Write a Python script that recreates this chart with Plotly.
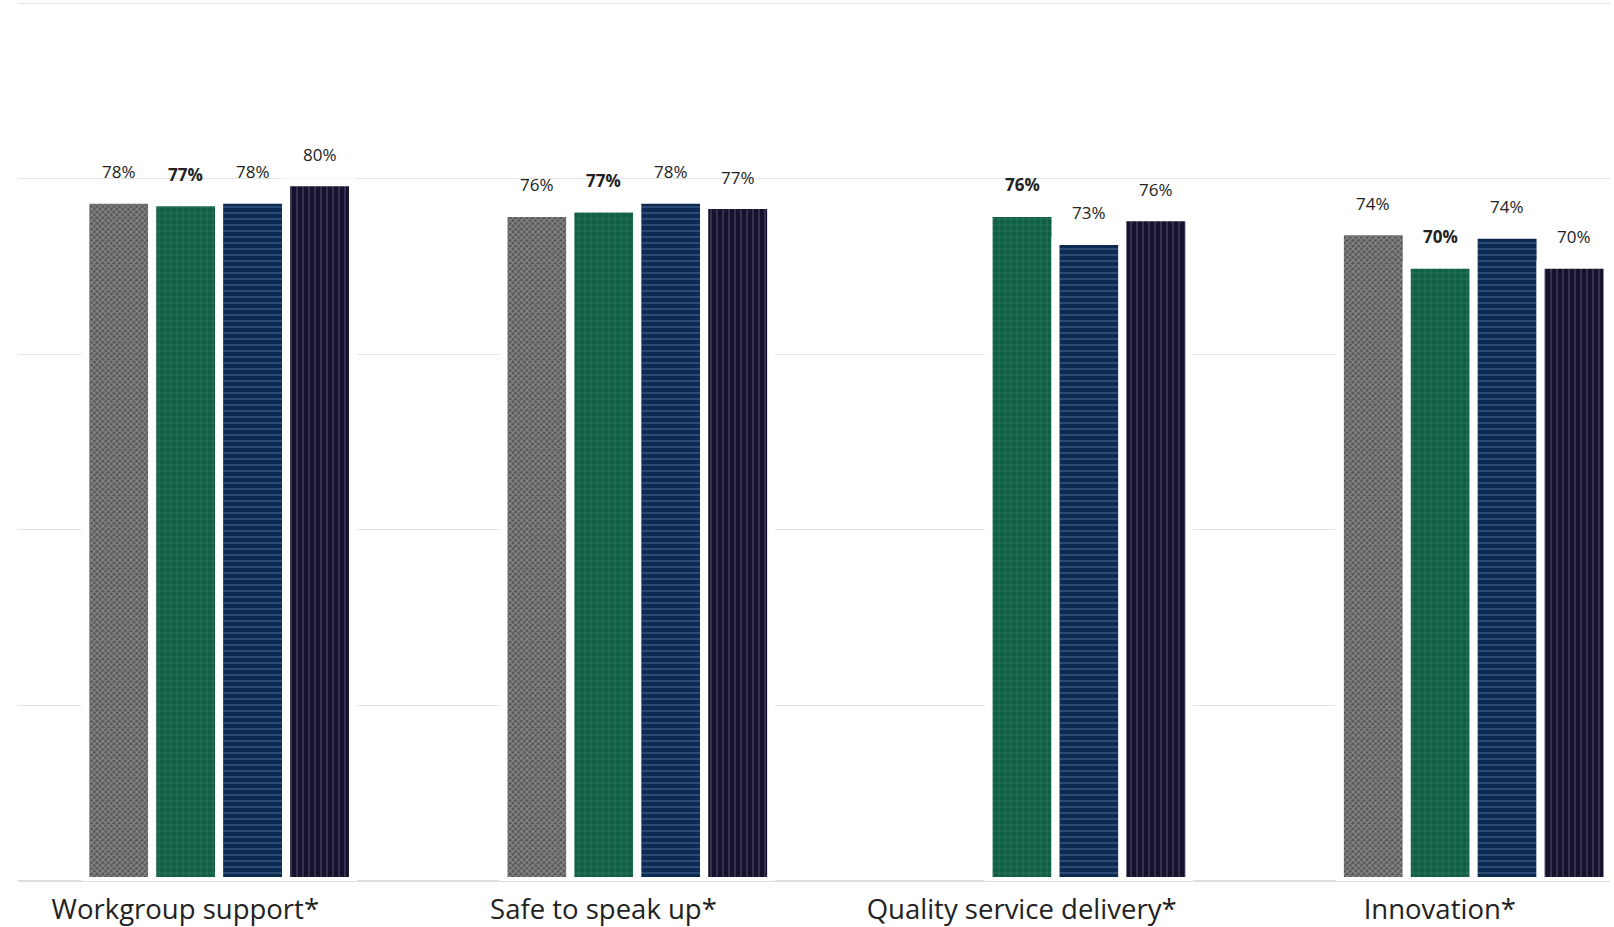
import plotly.graph_objects as go

categories = ["Workgroup support*", "Safe to speak up*", "Quality service delivery*", "Innovation*"]
series_names = ["Series A", "Series B", "Series C", "Series D"]
series_values = [
    [77.6, 76.1, None, 74.0],
    [77.3, 76.6, 76.1, 70.2],
    [77.6, 77.6, 72.9, 73.6],
    [79.6, 77.0, 75.6, 70.2],
]
series_labels = [
    ["78%", "76%", "", "74%"],
    ["77%", "77%", "76%", "70%"],
    ["78%", "78%", "73%", "74%"],
    ["80%", "77%", "76%", "70%"],
]
bold_series = 1

patterns = [
    dict(shape="x", bgcolor="#585858", fgcolor="#c2c2c2", size=4, solidity=0.45),
    dict(shape="+", bgcolor="#0f5f44", fgcolor="#8cc2a9", size=6, solidity=0.12),
    dict(shape="-", bgcolor="#0c2b53", fgcolor="#8fadd4", size=6, solidity=0.16),
    dict(shape="|", bgcolor="#16122d", fgcolor="#9a97b6", size=6, solidity=0.16),
]

bargap = 0.36
n = len(series_values)
slot = (1 - bargap) / n
xs = list(range(len(categories)))

fig = go.Figure()
for j, (name, vals) in enumerate(zip(series_names, series_values)):
    p = patterns[j]
    fig.add_trace(go.Bar(
        x=xs, y=vals, name=name,
        marker=dict(color=p["bgcolor"],
                    pattern=dict(shape=p["shape"], bgcolor=p["bgcolor"], fgcolor=p["fgcolor"],
                                 fillmode="overlay", size=p["size"], solidity=p["solidity"]),
                    line=dict(color="white", width=8)),
        hoverinfo="skip",
    ))

annotations = []
for j, (vals, labs) in enumerate(zip(series_values, series_labels)):
    for i, (v, lab) in enumerate(zip(vals, labs)):
        if v is None:
            continue
        txt = f"<b>{lab}</b>" if j == bold_series else lab
        annotations.append(dict(
            x=i + (j - (n - 1) / 2) * slot, y=v, text=txt, showarrow=False,
            yanchor="middle", yshift=28,
            font=dict(family="Open Sans", size=17, color="#222222"),
        ))

fig.update_layout(
    width=1614, height=927,
    margin=dict(l=18, r=4, t=0, b=44),
    paper_bgcolor="white", plot_bgcolor="white",
    barmode="group", bargap=bargap, bargroupgap=0,
    showlegend=False,
    annotations=annotations,
    xaxis=dict(range=[-0.481, 3.326], tickvals=[x - 0.081 for x in xs], ticktext=categories,
               showgrid=False, zeroline=False, showline=False, ticks="",
               ticklabelstandoff=9,
               tickfont=dict(family="Open Sans", size=27.5, color="#222222")),
    yaxis=dict(range=[0, 100.35], tickvals=[0, 20, 40, 60, 80, 100], showgrid=True,
               gridcolor="#e3e3e3", gridwidth=1,
               zeroline=True, zerolinecolor="#dedede", zerolinewidth=2,
               showticklabels=False, ticks=""),
)

fig.write_html("out.html", config={"displayModeBar": False},
               post_script="document.body.style.margin='0';")
